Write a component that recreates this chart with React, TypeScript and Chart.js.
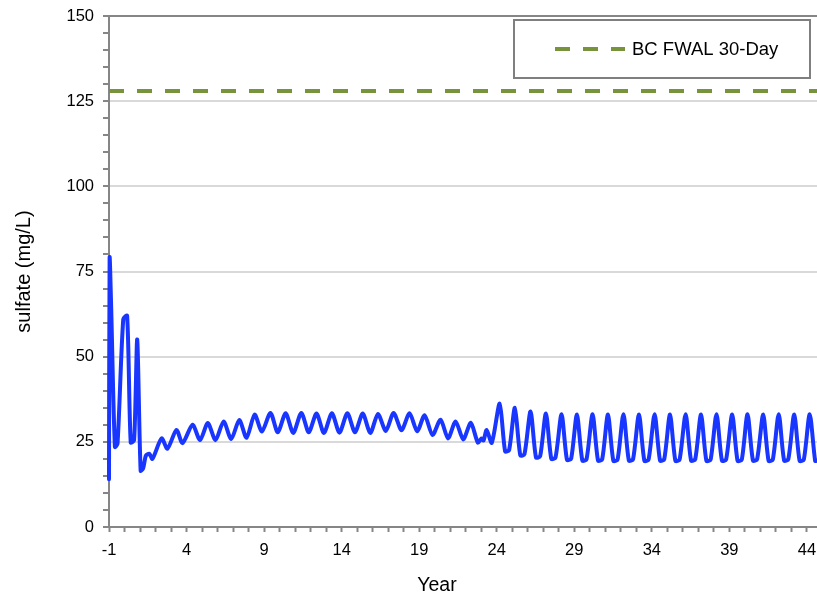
import React, { useEffect, useRef } from 'react';
import { Chart, registerables } from 'chart.js';

Chart.register(...registerables);

// Start-up period: sharp flushing spikes (year, mg/L)
const startupYears = [-1.0, -0.96, -0.86, -0.62, -0.45, -0.08, 0.17, 0.4, 0.62, 0.82, 1.04, 1.2, 1.38, 1.6, 1.8];
const startupSulfate = [14, 79, 64.5, 23.5, 24.5, 61, 62, 24.8, 25.5, 55, 16.5, 17.2, 21, 21.5, 20];

// Operations: annual cycle, slowly rising then easing
const operatingYears = [
  2.39, 2.77, 3.35, 3.74, 4.39, 4.87, 5.37, 5.87, 6.39, 6.88, 7.4, 7.87,
  8.39, 8.86, 9.41, 9.88, 10.39, 10.88, 11.4, 11.88, 12.38, 12.86, 13.37, 13.86,
  14.37, 14.86, 15.36, 15.85, 16.34, 16.85, 17.35, 17.86, 18.38, 18.87, 19.35, 19.86,
  20.38, 20.86, 21.35, 21.84, 22.33, 22.78, 23.02, 23.15, 23.35, 23.68,
];
const operatingSulfate = [
  26, 23, 28.5, 24.6, 30, 25.5, 30.5, 25.5, 31, 25.8, 31.4, 26.2,
  33, 28, 33.5, 27.8, 33.4, 27.6, 33.5, 27.8, 33.3, 27.6, 33.4, 27.7,
  33.4, 27.8, 33.3, 27.6, 33.2, 28.2, 33.5, 28.4, 33.4, 28.1, 32.8, 27,
  31.5, 26, 31, 25.7, 30.6, 24.8, 26, 25.4, 28.5, 24.7,
];

// Post-closure: peak, trough bottom, end of trough for each year
const closureYears = [
  24.19, 24.54, 24.8, 25.17, 25.52, 25.79, 26.18, 26.53, 26.8, 27.17, 27.52, 27.79,
  28.18, 28.53, 28.8, 29.17, 29.52, 29.79, 30.18, 30.53, 30.8, 31.17, 31.52, 31.79,
  32.17, 32.52, 32.79, 33.17, 33.52, 33.79, 34.18, 34.53, 34.8, 35.17, 35.52, 35.79,
  36.18, 36.53, 36.8, 37.17, 37.52, 37.79, 38.17, 38.52, 38.79, 39.18, 39.53, 39.8,
  40.17, 40.52, 40.79, 41.18, 41.53, 41.8, 42.18, 42.53, 42.8, 43.18, 43.53, 43.8,
  44.18, 44.53, 44.65,
];
const closureSulfate = [
  36.2, 22.2, 22.6, 35.0, 21.0, 21.4, 33.9, 20.4, 20.8, 33.3, 20.0, 20.4,
  33.1, 19.7, 20.1, 33.0, 19.5, 19.9, 33.1, 19.5, 19.9, 33.0, 19.4, 19.8,
  33.1, 19.5, 19.9, 33.0, 19.4, 19.8, 33.1, 19.5, 19.9, 33.0, 19.4, 19.8,
  33.1, 19.5, 19.9, 33.0, 19.4, 19.8, 33.1, 19.5, 19.8, 33.0, 19.4, 19.8,
  33.1, 19.5, 19.9, 33.0, 19.4, 19.8, 33.1, 19.5, 19.9, 33.0, 19.4, 19.8,
  33.1, 19.4, 19.5,
];

const guidelineLabel = 'BC FWAL 30-Day';
const guidelineValue = 128;

const xLabelYears = [-1, 4, 9, 14, 19, 24, 29, 34, 39, 44];
const yLabelValues = [0, 25, 50, 75, 100, 125, 150];
const xMin = -1;
const xMax = 44.65;
const yMin = 0;
const yMax = 150;

const FONT = '"Liberation Sans", Arial, Helvetica, sans-serif';
const AXIS_GRAY = '#868686';
const GRID_GRAY = '#d9d9d9';
const SERIES_BLUE = '#1836ff';
const GUIDE_GREEN = '#77933c';
const GUIDE_DASH = [15, 13];

function toPoints(xs: number[], ys: number[]) {
  return xs.map((x, i) => ({ x, y: ys[i] }));
}

const overlayPlugin = {
  id: 'legendAndXTitle',
  afterDraw(chart: any) {
    const { ctx, chartArea } = chart;
    const guide = chart.data.datasets[1];
    const boxW = 296;
    const boxH = 58;
    const left = chartArea.right - 7 - boxW;
    const top = chartArea.top + 4;
    ctx.save();
    ctx.fillStyle = '#ffffff';
    ctx.fillRect(left, top, boxW, boxH);
    ctx.strokeStyle = '#7f7f7f';
    ctx.lineWidth = 2;
    ctx.strokeRect(left, top, boxW, boxH);
    const cy = top + boxH / 2;
    ctx.strokeStyle = guide.borderColor;
    ctx.lineWidth = guide.borderWidth;
    ctx.setLineDash(guide.borderDash);
    ctx.beginPath();
    ctx.moveTo(left + 41, cy);
    ctx.lineTo(left + 111, cy);
    ctx.stroke();
    ctx.setLineDash([]);
    ctx.fillStyle = '#000000';
    ctx.font = `18.5px ${FONT}`;
    ctx.textBaseline = 'middle';
    ctx.textAlign = 'left';
    ctx.fillText(guide.label, left + 118, cy + 1);

    ctx.font = `19.5px ${FONT}`;
    ctx.textAlign = 'center';
    ctx.fillText('Year', 437, 586);
    ctx.restore();
  },
};

export default function App() {
  const canvasRef = useRef<HTMLCanvasElement | null>(null);

  useEffect(() => {
    const canvas = canvasRef.current;
    if (!canvas) return;

    const xTickValues: number[] = [];
    for (let v = xMin; v <= 44; v += 1) xTickValues.push(v);
    const yTickValues: number[] = [];
    for (let v = yMin; v <= yMax; v += 5) yTickValues.push(v);

    const sulfate = [
      ...toPoints(startupYears, startupSulfate),
      ...toPoints(operatingYears, operatingSulfate),
      ...toPoints(closureYears, closureSulfate),
    ];

    const chart = new Chart(canvas, {
      type: 'line',
      data: {
        datasets: [
          {
            label: 'sulfate',
            data: sulfate,
            borderColor: SERIES_BLUE,
            borderWidth: 4,
            pointRadius: 0,
            fill: false,
            tension: 0.25,
            borderJoinStyle: 'round',
            borderCapStyle: 'round',
            clip: 4,
          },
          {
            label: guidelineLabel,
            data: [
              { x: xMin, y: guidelineValue },
              { x: xMax, y: guidelineValue },
            ],
            borderColor: GUIDE_GREEN,
            borderWidth: 4,
            borderDash: GUIDE_DASH,
            pointRadius: 0,
            fill: false,
          },
        ],
      },
      options: {
        animation: false,
        responsive: false,
        devicePixelRatio: 1,
        parsing: false,
        normalized: true,
        layout: { padding: { top: 16, right: 0, bottom: 0, left: 0 } },
        plugins: {
          legend: { display: false },
          tooltip: { enabled: false },
          title: { display: false },
        },
        scales: {
          x: {
            type: 'linear',
            min: xMin,
            max: xMax,
            afterBuildTicks: (scale: any) => {
              scale.ticks = xTickValues.map((value) => ({ value }));
            },
            afterFit: (scale: any) => {
              scale.height = 72;
              scale.paddingLeft = 0;
              scale.paddingRight = 0;
            },
            ticks: {
              autoSkip: false,
              maxRotation: 0,
              minRotation: 0,
              padding: 9,
              color: '#000000',
              font: { family: FONT, size: 16.5 },
              callback: (value: any) => {
                const v = Math.round(Number(value));
                return xLabelYears.includes(v) ? String(v) : '';
              },
            },
            grid: {
              drawOnChartArea: false,
              drawTicks: true,
              tickLength: 5,
              tickColor: AXIS_GRAY,
              tickWidth: 2,
            },
            border: { display: true, color: AXIS_GRAY, width: 2 },
          },
          y: {
            type: 'linear',
            min: yMin,
            max: yMax,
            afterBuildTicks: (scale: any) => {
              scale.ticks = yTickValues.map((value) => ({ value }));
            },
            afterFit: (scale: any) => {
              scale.width = 109;
              scale.paddingTop = 0;
              scale.paddingBottom = 0;
            },
            ticks: {
              autoSkip: false,
              padding: 9,
              color: '#000000',
              font: { family: FONT, size: 16.5 },
              callback: (value: any) => {
                const v = Math.round(Number(value));
                return yLabelValues.includes(v) ? String(v) : '';
              },
            },
            grid: {
              drawTicks: true,
              tickLength: 6,
              tickColor: AXIS_GRAY,
              tickWidth: 2,
              lineWidth: 2,
              color: (ctx: any) => {
                const v = Math.round(ctx.tick ? ctx.tick.value : -1);
                if (v === yMax) return AXIS_GRAY;
                if (v > yMin && v % 25 === 0) return GRID_GRAY;
                return 'rgba(0,0,0,0)';
              },
            },
            border: { display: true, color: AXIS_GRAY, width: 2 },
            title: {
              display: true,
              text: 'sulfate (mg/L)',
              color: '#000000',
              font: { family: FONT, size: 20 },
              padding: { top: 12, bottom: 0 },
            },
          },
        },
      },
      plugins: [overlayPlugin],
    } as any);

    return () => {
      chart.destroy();
    };
  }, []);

  return (
    <div style={{ position: 'fixed', left: 0, top: 0, width: 817, height: 599, background: '#ffffff' }}>
      <canvas ref={canvasRef} width={817} height={599} style={{ display: 'block', width: 817, height: 599 }} />
    </div>
  );
}
